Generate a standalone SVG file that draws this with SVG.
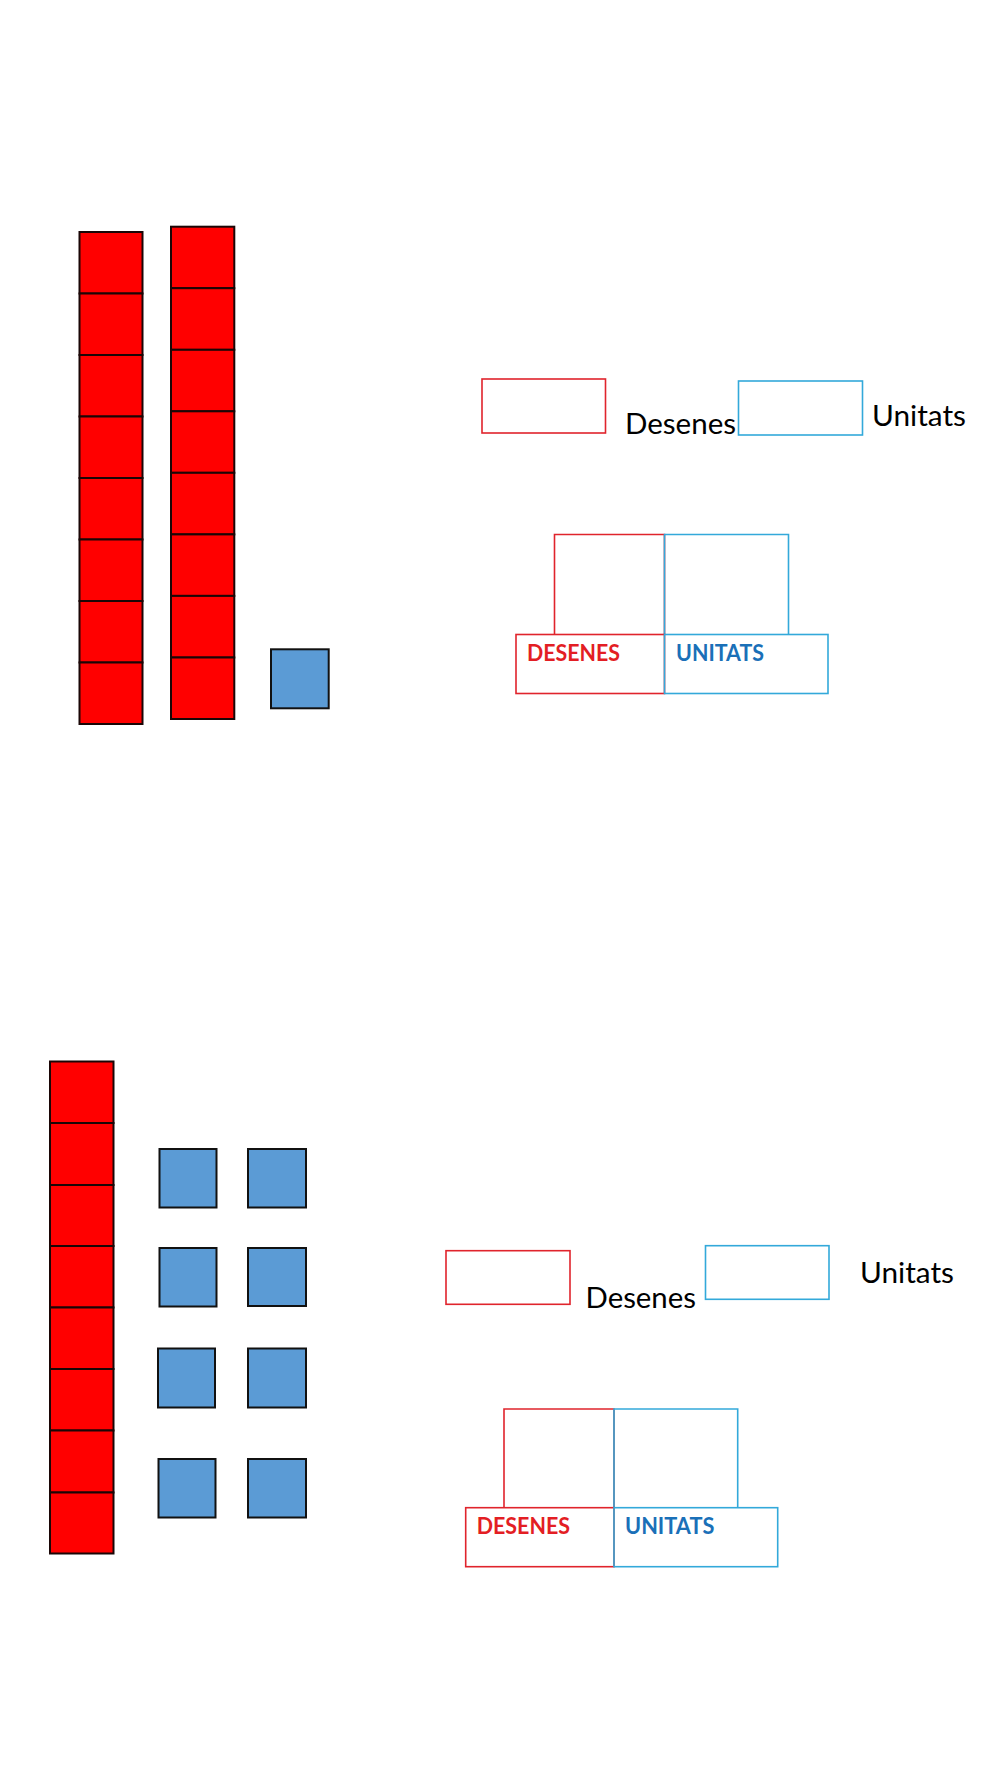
<svg xmlns="http://www.w3.org/2000/svg" width="1000" height="1776" viewBox="0 0 1000 1776">
<style>
.ten{fill:#ff0000;stroke:#1a0606;stroke-width:2}
.one{fill:#5b9bd5;stroke:#111111;stroke-width:2}
.rbox{fill:none;stroke:#e0242c;stroke-width:1.6}
.bbox{fill:none;stroke:#33a9da;stroke-width:1.6}
.lbl{font-family:Lato,"Open Sans","Liberation Sans",sans-serif;font-size:29px;fill:#000}
.hd{font-family:Lato,"Open Sans","Liberation Sans",sans-serif;font-size:23px;font-weight:bold}
</style>
<rect width="1000" height="1776" fill="#fff"/>
<g id="tens-top-1">
<rect class="ten" x="79.5" y="232" width="63" height="61.5"/>
<rect class="ten" x="79.5" y="293.5" width="63" height="61.5"/>
<rect class="ten" x="79.5" y="355" width="63" height="61.5"/>
<rect class="ten" x="79.5" y="416.5" width="63" height="61.5"/>
<rect class="ten" x="79.5" y="478" width="63" height="61.5"/>
<rect class="ten" x="79.5" y="539.5" width="63" height="61.5"/>
<rect class="ten" x="79.5" y="601" width="63" height="61.5"/>
<rect class="ten" x="79.5" y="662.5" width="63" height="61.5"/>
</g>
<g id="tens-top-2">
<rect class="ten" x="171" y="226.7" width="63.3" height="61.5"/>
<rect class="ten" x="171" y="288.2" width="63.3" height="61.6"/>
<rect class="ten" x="171" y="349.8" width="63.3" height="61.5"/>
<rect class="ten" x="171" y="411.3" width="63.3" height="61.5"/>
<rect class="ten" x="171" y="472.8" width="63.3" height="61.6"/>
<rect class="ten" x="171" y="534.4" width="63.3" height="61.5"/>
<rect class="ten" x="171" y="595.9" width="63.3" height="61.6"/>
<rect class="ten" x="171" y="657.5" width="63.3" height="61.5"/>
</g>
<g id="unit-top">
<rect class="one" x="271" y="649.3" width="57.7" height="59"/>
</g>
<g id="answer-top">
<rect class="rbox" x="482" y="379" width="123.5" height="54"/>
<text class="lbl" x="625" y="434" textLength="111" lengthAdjust="spacingAndGlyphs">Desenes</text>
<rect class="bbox" x="738.5" y="381" width="124" height="54"/>
<text class="lbl" x="872" y="426" textLength="94" lengthAdjust="spacingAndGlyphs">Unitats</text>
</g>
<g id="table-top">
<polyline class="rbox" points="554.5,634.5 554.5,534.5 664.5,534.5 664.5,634.5"/>
<polyline class="bbox" points="664.5,634.5 664.5,534.5 788.5,534.5 788.5,634.5"/>
<rect class="rbox" x="516" y="634.5" width="148.5" height="59"/>
<rect class="bbox" x="664.5" y="634.5" width="163.5" height="59"/>
<text class="hd" x="527" y="661" fill="#e31e24" textLength="93" lengthAdjust="spacingAndGlyphs">DESENES</text>
<text class="hd" x="676" y="661" fill="#1a70b8" textLength="88" lengthAdjust="spacingAndGlyphs">UNITATS</text>
</g>
<g id="tens-bottom">
<rect class="ten" x="50" y="1061.5" width="63.5" height="61.5"/>
<rect class="ten" x="50" y="1123" width="63.5" height="62"/>
<rect class="ten" x="50" y="1185" width="63.5" height="61"/>
<rect class="ten" x="50" y="1246" width="63.5" height="61.5"/>
<rect class="ten" x="50" y="1307.5" width="63.5" height="61.5"/>
<rect class="ten" x="50" y="1369" width="63.5" height="61.5"/>
<rect class="ten" x="50" y="1430.5" width="63.5" height="62"/>
<rect class="ten" x="50" y="1492.5" width="63.5" height="61"/>
</g>
<g id="units-bottom">
<rect class="one" x="159.5" y="1149" width="57" height="58.5"/>
<rect class="one" x="248" y="1149" width="58" height="58.5"/>
<rect class="one" x="159.5" y="1248" width="57" height="58.5"/>
<rect class="one" x="248" y="1248" width="58" height="58"/>
<rect class="one" x="158" y="1348.5" width="57" height="59"/>
<rect class="one" x="248" y="1348.5" width="58" height="59"/>
<rect class="one" x="158.5" y="1459" width="57" height="58.5"/>
<rect class="one" x="248" y="1459" width="58" height="58.5"/>
</g>
<g id="answer-bottom">
<rect class="rbox" x="446" y="1250.7" width="124" height="53.6"/>
<text class="lbl" x="585.5" y="1307.5" textLength="110.5" lengthAdjust="spacingAndGlyphs">Desenes</text>
<rect class="bbox" x="705.5" y="1245.7" width="123.5" height="53.6"/>
<text class="lbl" x="860" y="1282.5" textLength="94" lengthAdjust="spacingAndGlyphs">Unitats</text>
</g>
<g id="table-bottom">
<polyline class="rbox" points="504,1507.7 504,1409 614,1409 614,1507.7"/>
<polyline class="bbox" points="614,1507.7 614,1409 737.7,1409 737.7,1507.7"/>
<rect class="rbox" x="465.7" y="1507.7" width="148.3" height="59"/>
<rect class="bbox" x="614" y="1507.7" width="163.7" height="59"/>
<text class="hd" x="476.7" y="1534" fill="#e31e24" textLength="93.3" lengthAdjust="spacingAndGlyphs">DESENES</text>
<text class="hd" x="625" y="1534" fill="#1a70b8" textLength="89.3" lengthAdjust="spacingAndGlyphs">UNITATS</text>
</g>
</svg>
